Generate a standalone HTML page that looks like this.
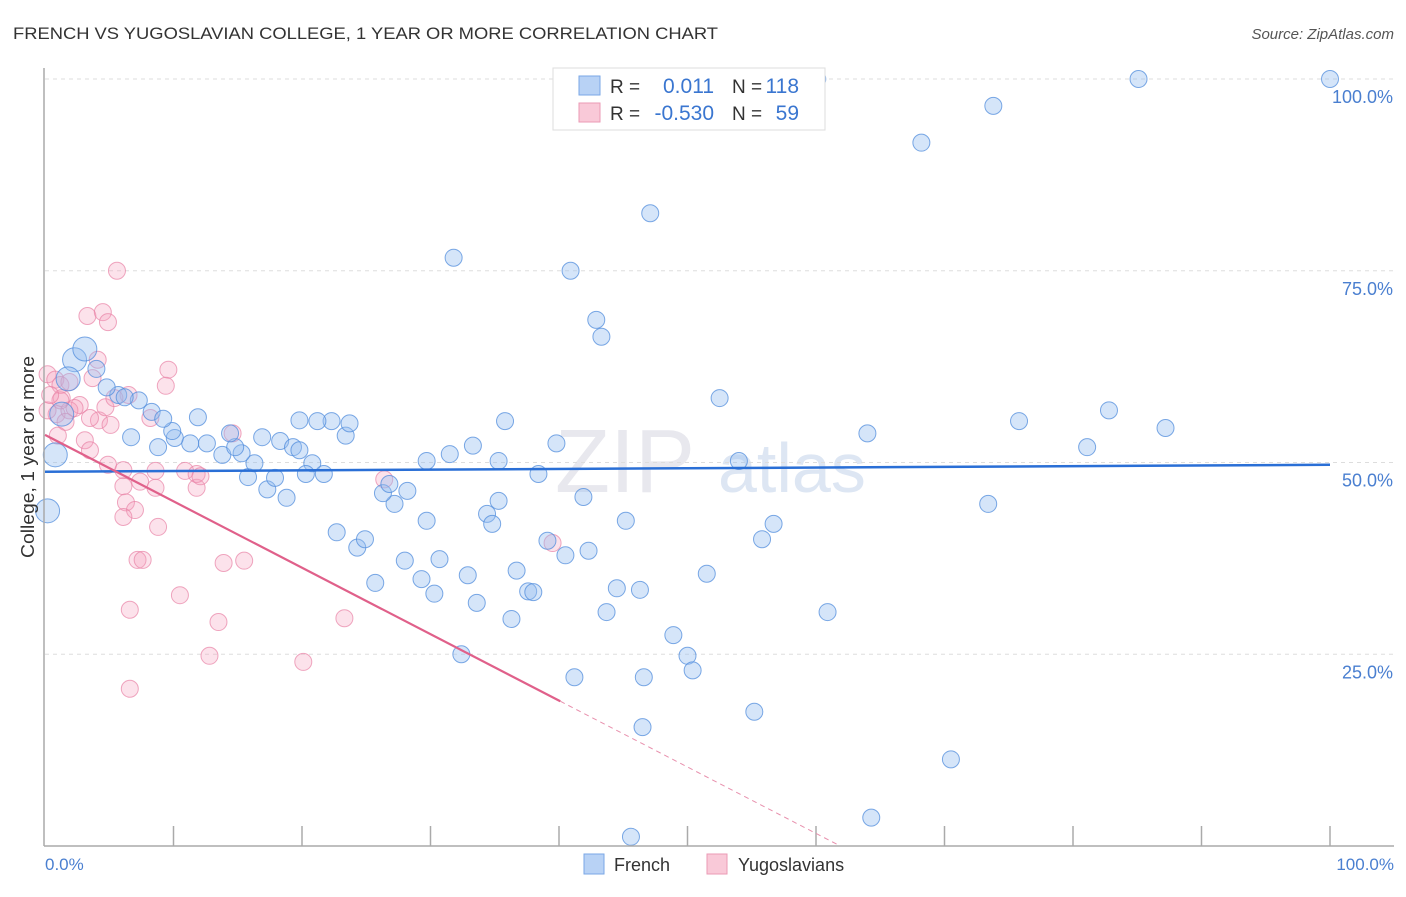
<!DOCTYPE html>
<html><head><meta charset="utf-8"><style>
body{margin:0;background:#fff;font-family:"Liberation Sans",sans-serif}
svg text{font-family:"Liberation Sans",sans-serif}
</style></head><body>
<svg id="c" width="1406" height="892">
<text x="13" y="39" font-size="17" fill="#333" textLength="705" lengthAdjust="spacingAndGlyphs">FRENCH VS YUGOSLAVIAN COLLEGE, 1 YEAR OR MORE CORRELATION CHART</text>
<text x="1394" y="39" font-size="15" fill="#555" font-style="italic" text-anchor="end">Source: ZipAtlas.com</text>
<text x="555" y="492" font-size="90" fill="#e8e8ee" font-family="Liberation Serif">ZIP</text>
<text x="718" y="492" font-size="70" fill="#dde6f3">atlas</text>
<g id="grid"></g><g id="pts"></g><g id="lines"></g>
<line x1="44" y1="68" x2="44" y2="846" stroke="#aaa" stroke-width="1.5"/>
<line x1="44" y1="846" x2="1394" y2="846" stroke="#aaa" stroke-width="1.5"/>
<text transform="translate(34,457) rotate(-90)" font-size="18" fill="#333" text-anchor="middle" textLength="202" lengthAdjust="spacingAndGlyphs">College, 1 year or more</text>
<text x="45" y="870" font-size="17" fill="#4a7fd0">0.0%</text>
<text x="1394" y="870" font-size="17" fill="#4a7fd0" text-anchor="end">100.0%</text>
<g>
<rect x="553" y="68" width="272" height="62" fill="#fff" stroke="#ddd"/>
<rect x="579" y="76" width="21" height="19" fill="#b8d2f5" stroke="#7aa7e6"/>
<rect x="579" y="103" width="21" height="19" fill="#f9c9d8" stroke="#eb9ab5"/>
<text x="610" y="93" font-size="19" fill="#333">R =</text>
<text x="714" y="93" font-size="21" fill="#3a76d0" text-anchor="end">0.011</text>
<text x="732" y="93" font-size="19" fill="#333">N =</text>
<text x="799" y="93" font-size="21" fill="#3a76d0" text-anchor="end">118</text>
<text x="610" y="120" font-size="19" fill="#333">R =</text>
<text x="714" y="120" font-size="21" fill="#3a76d0" text-anchor="end">-0.530</text>
<text x="732" y="120" font-size="19" fill="#333">N =</text>
<text x="799" y="120" font-size="21" fill="#3a76d0" text-anchor="end">59</text>
</g>
<g><rect x="584" y="854" width="20" height="20" fill="#b8d2f5" stroke="#7aa7e6"/><text x="614" y="871" font-size="18" fill="#333">French</text></g>
<g><rect x="707" y="854" width="20" height="20" fill="#f9c9d8" stroke="#eb9ab5"/><text x="738" y="871" font-size="18" fill="#333">Yugoslavians</text></g>
</svg>
<script>
const yTicks=[25,50,75,100];
const frX=[60.1,85.1,100,73.8,68.2,47.1,31.8,40.9,42.9,43.3,52.5,75.8,82.8,87.2,81.1,64.0,35.8,39.8,54.0,73.4,56.7,55.8,51.5,45.2,42.3,40.5,39.1,41.9,38.4,35.3,34.4,34.8,36.7,37.6,38.0,36.3,33.6,32.9,30.7,29.7,28.2,27.2,26.3,26.8,28.0,29.3,30.3,25.7,24.3,24.9,22.7,23.4,23.7,22.3,21.2,19.8,20.8,20.3,21.7,18.8,17.3,17.9,15.8,16.3,13.8,15.3,14.8,14.4,16.9,18.3,19.3,12.6,11.9,11.3,10.1,9.9,8.8,6.7,7.3,8.3,9.2,5.7,6.2,4.8,4.0,2.3,3.1,1.8,1.3,0.8,0.2,33.3,31.5,29.7,19.8,46.3,43.7,44.5,48.9,50.0,50.4,32.4,41.2,46.6,55.2,60.9,70.5,46.5,45.6,64.3,35.3];
const frY=[100,100,100,96.5,91.7,82.5,76.7,75.0,68.6,66.4,58.4,55.4,56.8,54.5,52.0,53.8,55.4,52.5,50.2,44.6,42.0,40.0,35.5,42.4,38.5,37.9,39.8,45.5,48.5,45.0,43.3,42.0,35.9,33.2,33.1,29.6,31.7,35.3,37.4,42.4,46.3,44.6,46.0,47.2,37.2,34.8,32.9,34.3,38.9,40.0,40.9,53.5,55.1,55.4,55.4,55.5,49.9,48.5,48.5,45.4,46.5,48.0,48.1,49.9,51.0,51.2,52.0,53.8,53.3,52.8,52.0,52.5,55.9,52.5,53.2,54.1,52.0,53.3,58.1,56.6,55.7,58.8,58.5,59.8,62.2,63.4,64.8,60.9,56.3,51.0,43.7,52.2,51.1,50.2,51.6,33.4,30.5,33.6,27.5,24.8,22.9,25.0,22.0,22.0,17.5,30.5,11.3,15.5,1.2,3.7,50.2];
const frW=frX.map((v,i)=>[85,86,87,88,89,90].includes(i)?2:1);
const yuX=[5.6,3.3,4.5,4.9,4.1,9.6,9.4,0.2,0.8,1.2,1.9,1.3,2.7,0.9,1.9,2.3,1.6,3.1,6.5,4.2,5.1,3.5,4.9,4.7,8.2,10.9,11.8,11.8,6.1,8.6,7.4,8.6,6.1,6.3,7.0,6.1,8.8,7.2,7.6,13.9,15.5,6.6,10.5,13.5,12.8,6.6,20.1,23.3,26.4,39.5,1.0,0.2,14.6,1.2,0.4,3.5,5.4,3.7,12.1];
const yuY=[75.0,69.1,69.6,68.3,63.4,62.1,60.0,61.5,60.8,60.1,60.5,58.4,57.5,56.3,56.8,57.1,55.3,52.9,58.8,55.5,54.9,51.6,49.7,57.2,55.8,48.9,46.7,48.5,49.0,48.9,47.5,46.7,46.9,44.8,43.8,42.9,41.6,37.3,37.3,36.9,37.2,30.8,32.7,29.2,24.8,20.5,24.0,29.7,47.8,39.5,53.5,56.8,53.8,58.1,58.8,55.8,58.4,61.0,48.2];
const frLine=[48.8,49.7];
const yuLine=[53.6,-0.866];
const X=v=>45+v*12.85, Y=v=>846-v*7.67;
const ns="http://www.w3.org/2000/svg";
function mk(t,a,p){const e=document.createElementNS(ns,t);for(const k in a)e.setAttribute(k,a[k]);p.appendChild(e);return e;}
const grid=document.getElementById('grid');
yTicks.forEach(t=>{
 const l=mk('line',{x1:45,x2:1394,y1:Y(t),y2:Y(t),stroke:'#ddd','stroke-dasharray':'4,4'},grid);
 
 
 const tx=mk('text',{x:1393,y:Y(t)+24,'font-size':18,fill:'#4a7fd0','text-anchor':'end'},grid);
 tx.textContent=t.toFixed(1)+'%';
 
 
});
for(let i=1;i<=10;i++){
 const l=mk('line',{x1:X(i*10),x2:X(i*10),y1:826,y2:846,stroke:'#aaa','stroke-width':1.5},grid);
 
 
}
const pts=document.getElementById('pts');
yuX.forEach((x,i)=>{
 const c=mk('circle',{cx:X(x),cy:Y(yuY[i]),r:8.5,fill:'rgba(244,160,188,0.3)',stroke:'rgba(232,130,165,0.7)','stroke-width':1},pts);
 
 
});
frX.forEach((x,i)=>{
 const c=mk('circle',{cx:X(x),cy:Y(frY[i]),r:frW[i]>1?12:8.5,fill:'rgba(150,190,240,0.4)',stroke:'rgba(80,140,220,0.75)','stroke-width':1},pts);
 
 
});
const lines=document.getElementById('lines');
const f=mk('line',{x1:X(0),y1:Y(frLine[0]),x2:X(100),y2:Y(frLine[1]),stroke:'#2a6fd6','stroke-width':2.5},lines);


const yx=v=>yuLine[0]+yuLine[1]*v, xEnd=-yuLine[0]/yuLine[1];
const p1=mk('line',{x1:X(0),y1:Y(yx(0)),x2:X(40.1),y2:Y(yx(40.1)),stroke:'#e0608a','stroke-width':2.2},lines);


const p2=mk('line',{x1:X(40.1),y1:Y(yx(40.1)),x2:X(xEnd),y2:Y(0),stroke:'#e890ad','stroke-width':1,'stroke-dasharray':'5,4'},lines);


</script>
</body></html>
